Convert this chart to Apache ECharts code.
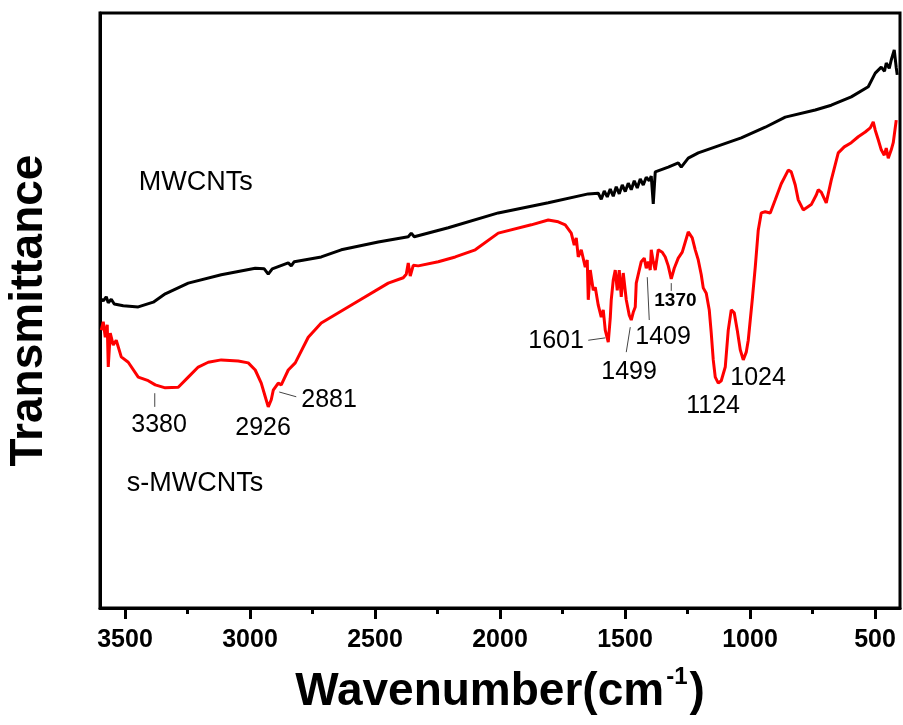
<!DOCTYPE html>
<html>
<head>
<meta charset="utf-8">
<script src="https://cdn.jsdelivr.net/npm/echarts@6/dist/echarts.min.js"></script>
<style>
  html, body { margin: 0; padding: 0; background: #fff; }
  #chart { width: 903px; height: 725px; }
</style>
</head>
<body>
<div id="chart"></div>
<script>
// MWCNTs spectrum (black)
var mwWn = [3600, 3587, 3575, 3567, 3555, 3543, 3507, 3447, 3387, 3339, 3247, 3115, 2979, 2943, 2927, 2911,
  2847, 2835, 2823, 2715, 2635, 2487, 2367, 2355, 2343, 2207, 2007, 1807, 1647,
  1607, 1595, 1583, 1571, 1559, 1547, 1535, 1523, 1511, 1499, 1487, 1475, 1463, 1451, 1439, 1427, 1415, 1403,
  1395, 1387, 1379, 1327, 1287, 1275, 1247, 1207, 1035, 939, 859, 739, 675, 595, 527, 499, 475, 462, 455, 443, 435, 423, 415, 411];
var mwT = [52.1, 51.6, 52.3, 51.3, 51.9, 51.1, 50.8, 50.6, 51.4, 52.8, 54.6, 56.0, 57.1, 57.0, 56.1, 57.0,
  58.0, 57.5, 58.2, 59.0, 60.2, 61.5, 62.4, 63.0, 62.4, 63.9, 66.4, 68.1, 69.6,
  69.7, 68.7, 70.1, 69.1, 70.4, 69.2, 70.8, 69.6, 71.1, 70.0, 71.4, 70.3, 71.8, 70.6, 72.1, 71.1, 72.4, 71.8,
  72.6, 67.9, 73.3, 74.1, 74.8, 74.1, 75.6, 76.5, 79.0, 80.8, 82.5, 83.7, 84.5, 85.9, 87.6, 89.9, 90.9, 90.2, 91.6, 90.7, 92.1, 93.8, 90.8, 89.6];

// s-MWCNTs spectrum (red)
var sWn = [3595, 3587, 3579, 3571, 3567, 3559, 3547, 3535, 3515, 3487, 3447, 3407, 3379, 3339, 3287, 3247,
  3207, 3167, 3115, 3047, 3007, 2979, 2955, 2939, 2927, 2915, 2907, 2887, 2875, 2847, 2819, 2767, 2715,
  2579, 2447, 2387, 2375, 2367, 2359, 2347, 2327, 2247, 2179, 2099, 2007, 1875, 1807, 1767, 1739, 1715,
  1703, 1695, 1687, 1675, 1659, 1651, 1647, 1639, 1627, 1619, 1607, 1595, 1587, 1579, 1567, 1559, 1555,
  1547, 1539, 1531, 1523, 1515, 1507, 1495, 1483, 1475, 1467, 1459, 1455, 1443, 1435, 1423, 1415, 1407,
  1399, 1395, 1387, 1379, 1367, 1351, 1339, 1327, 1315, 1303, 1287, 1271, 1247, 1231, 1219, 1207, 1195,
  1187, 1175, 1163, 1155, 1147, 1139, 1127, 1115, 1099, 1087, 1075, 1063, 1051, 1039, 1027, 1015, 1007,
  991, 979, 967, 955, 939, 919, 899, 875, 847, 835, 819, 807, 787, 755, 735, 727, 715, 695, 675, 647,
  623, 595, 567, 539, 519, 507, 499, 487, 475, 463, 455, 447, 435, 427, 415];
var sT = [46.7, 48.1, 45.5, 47.6, 40.5, 46.2, 44.2, 45.0, 42.2, 41.3, 38.8, 38.2, 37.5, 37.0, 37.1, 38.8,
  40.5, 41.3, 41.7, 41.5, 41.2, 40.0, 37.8, 35.5, 33.8, 35.0, 36.6, 37.8, 37.5, 40.0, 41.2, 45.5, 47.9,
  51.3, 54.6, 55.5, 56.1, 58.0, 55.8, 57.6, 57.5, 58.2, 59.0, 60.2, 63.0, 64.4, 65.2, 64.9, 64.4, 63.0,
  61.0, 62.2, 59.0, 60.2, 57.3, 58.5, 51.8, 56.8, 53.4, 53.9, 50.9, 48.9, 50.1, 46.7, 44.7, 48.7, 51.8,
  55.1, 56.8, 53.4, 56.8, 52.3, 56.3, 51.8, 49.2, 48.4, 49.7, 50.6, 54.6, 56.8, 58.2, 58.8, 57.1, 58.2,
  56.8, 60.2, 58.2, 56.8, 60.2, 59.8, 59.0, 57.5, 55.3, 57.1, 58.8, 59.8, 63.2, 62.2, 60.2, 58.5, 56.0,
  53.8, 52.9, 50.1, 46.2, 41.7, 38.8, 37.8, 38.2, 40.5, 46.7, 50.1, 49.6, 46.7, 43.4, 41.7, 43.0, 45.0,
  51.8, 57.3, 63.5, 66.4, 66.6, 66.4, 68.6, 71.3, 73.6, 73.3, 71.1, 68.6, 66.9, 67.8, 69.4, 70.3, 69.9, 68.1, 71.9, 76.5,
  77.5, 78.2, 79.2, 80.0, 80.7, 81.7, 80.3, 78.7, 77.0, 76.1, 77.3, 75.6, 77.0, 78.2, 82.0];

var majorTicks = [500, 1000, 1500, 2000, 2500, 3000, 3500];
var minorTicks = [750, 1250, 1750, 2250, 2750, 3250];

// peak labels: text, left edge (cm-1), top (T)
var peakText = ['3380', '2926', '2881', '1601', '1499', '1409', '1124', '1024'];
var peakWn = [3475, 3059, 2795, 1887, 1595, 1459, 1255, 1079];
var peakT = [32.9, 32.4, 37.1, 46.9, 41.7, 47.7, 36.0, 40.8];
// small bold label
var smallText = ['1370'];
var smallWn = [1383];
var smallT = [53.3];
// leader lines [wn1, t1, wn2, t2]
var leaders = [
  [3381, 36.1, 3381, 33.8],
  [2883, 36.3, 2815, 35.5],
  [1647, 45.0, 1579, 45.4],
  [1495, 43.0, 1479, 47.2],
  [1403, 48.4, 1411, 55.6],
  [1315, 54.6, 1315, 53.3]
];
// sample names
var nameText = ['MWCNTs', 's-MWCNTs'];
var nameWn = [3445, 3493];
var nameT = [73.8, 23.2];

var font = 'Arial, "Liberation Sans", sans-serif';

function zip(a, b) {
  return a.map(function (v, i) { return [v, b[i]]; });
}

var myChart = echarts.init(document.getElementById('chart'));
var option = {
  animation: false,
  grid: {
    left: 100, right: 3, top: 13, bottom: 117, outerBoundsMode: 'none',
    show: true, borderColor: '#000', borderWidth: 3
  },
  xAxis: [
    {
      type: 'value', min: 400, max: 3600, inverse: true, position: 'bottom',
      axisLine: { show: true, lineStyle: { color: '#000', width: 3 } },
      axisTick: { show: true, customValues: majorTicks, length: 11, lineStyle: { color: '#000', width: 3 } },
      axisLabel: {
        customValues: majorTicks, fontSize: 25, fontWeight: 'bold', color: '#000', margin: 20, fontFamily: font,
        formatter: function (v) { return String(v); }
      },
      splitLine: { show: false },
      name: '{a|Wavenumber(cm}{s|-1}{a|)}',
      nameLocation: 'middle',
      nameGap: 57,
      nameTextStyle: {
        rich: {
          a: { fontSize: 46, fontWeight: 'bold', fontFamily: font, color: '#000', lineHeight: 50, verticalAlign: 'bottom' },
          s: { fontSize: 24, fontWeight: 'bold', fontFamily: font, color: '#000', lineHeight: 50, verticalAlign: 'top', padding: [0, 2, 0, 2] }
        }
      }
    },
    {
      type: 'value', min: 400, max: 3600, inverse: true, position: 'bottom',
      axisLine: { show: false },
      axisTick: { show: true, customValues: minorTicks, length: 6, lineStyle: { color: '#000', width: 3 } },
      axisLabel: { show: false },
      splitLine: { show: false }
    }
  ],
  yAxis: {
    type: 'value', min: 0, max: 100,
    axisLine: { show: true, lineStyle: { color: '#000', width: 3 } },
    axisTick: { show: false },
    axisLabel: { show: false },
    splitLine: { show: false },
    name: 'Transmittance',
    nameLocation: 'middle',
    nameGap: 48,
    nameTextStyle: { fontSize: 46, fontWeight: 'bold', fontFamily: font, color: '#000' }
  },
  series: [
    {
      name: 'MWCNTs', type: 'line', xAxisIndex: 0, showSymbol: false,
      data: zip(mwWn, mwT),
      lineStyle: { color: '#000', width: 3 }
    },
    {
      name: 's-MWCNTs', type: 'line', xAxisIndex: 0, showSymbol: false,
      data: zip(sWn, sT),
      lineStyle: { color: '#ff0000', width: 3 }
    }
  ]
};
myChart.setOption(option);

// annotations placed from data coordinates
function px(wn, t) { return myChart.convertToPixel({ gridIndex: 0 }, [wn, t]); }
var graphics = [];
leaders.forEach(function (l) {
  var p1 = px(l[0], l[1]), p2 = px(l[2], l[3]);
  graphics.push({ type: 'line', shape: { x1: p1[0], y1: p1[1], x2: p2[0], y2: p2[1] },
    style: { stroke: '#444', lineWidth: 1 }, z: 10 });
});
peakText.forEach(function (t, i) {
  var p = px(peakWn[i], peakT[i]);
  graphics.push({ type: 'text', x: p[0], y: p[1], z: 10,
    style: { text: t, font: '25px ' + font, fill: '#000', verticalAlign: 'top' } });
});
smallText.forEach(function (t, i) {
  var p = px(smallWn[i], smallT[i]);
  graphics.push({ type: 'text', x: p[0], y: p[1], z: 10,
    style: { text: t, font: 'bold 19px ' + font, fill: '#000', verticalAlign: 'top' } });
});
nameText.forEach(function (t, i) {
  var p = px(nameWn[i], nameT[i]);
  graphics.push({ type: 'text', x: p[0], y: p[1], z: 10,
    style: { text: t, font: '27px ' + font, fill: '#000', verticalAlign: 'top' } });
});
myChart.setOption({ graphic: graphics });
</script>
</body>
</html>
